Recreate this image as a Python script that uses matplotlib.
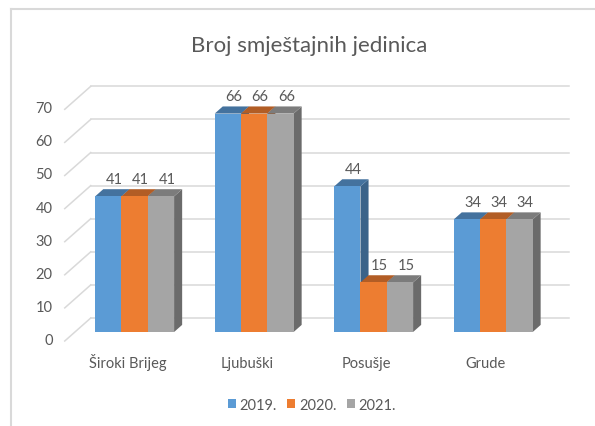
import matplotlib
matplotlib.use("Agg")
import matplotlib.pyplot as plt
from matplotlib.patches import Polygon, Patch
from matplotlib.lines import Line2D

categories = ["Široki Brijeg", "Ljubuški", "Posušje", "Grude"]
series_names = ["2019.", "2020.", "2021."]
values_2019 = [41, 66, 44, 34]
values_2020 = [41, 66, 15, 34]
values_2021 = [41, 66, 15, 34]
series_values = [values_2019, values_2020, values_2021]
yticks = [0, 10, 20, 30, 40, 50, 60, 70]
title = "Broj smještajnih jedinica"

front_colors = ["#5B9BD5", "#ED7D31", "#A5A5A5"]
top_colors = ["#44729E", "#B25D25", "#7C7C7C"]
side_colors = ["#3B6389", "#9A5020", "#6B6B6B"]
text_color = "#595959"
grid_color = "#D9D9D9"
FONT = "Lato"

W, H = 595, 427
fig = plt.figure(figsize=(W / 100, H / 100), dpi=100)
left_px, right_px = 64.75, 542.75
bottom_px, top_px = 342, 110.3
ax = fig.add_axes([left_px / W, 1 - bottom_px / H, (right_px - left_px) / W, (bottom_px - top_px) / H])
ax.set_xlim(-0.5, len(categories) - 0.5)
ax.set_ylim(0, 70)
ax.axis("off")

cat_px = (right_px - left_px) / len(categories)
val_px = (bottom_px - top_px) / 70
DX = 26 / cat_px
DY = 23 / val_px
F0, F1 = 0.39, 0.70
BW = 26.3 / cat_px

x0, x1 = -0.5, len(categories) - 0.5
for v in yticks:
    ax.plot([x0, x0 + DX], [v, v + DY], color=grid_color, lw=1.1, clip_on=False, zorder=1)
    ax.plot([x0 + DX, x1 + DX], [v + DY, v + DY], color=grid_color, lw=1.1, clip_on=False, zorder=1)
    ax.text(x0 - 12 / cat_px, v - 3 / val_px, str(v), ha="right", va="baseline", fontsize=10.5,
            color=text_color, family=FONT)

z = 2
for i, cat in enumerate(categories):
    for s in range(len(series_names)):
        v = series_values[s][i]
        xl = i + (s - 1.5) * BW
        xr = xl + BW
        fx, fy = F0 * DX, F0 * DY
        bx, by = F1 * DX, F1 * DY
        side = Polygon([(xr + fx, fy), (xr + bx, by), (xr + bx, v + by), (xr + fx, v + fy)],
                       closed=True, facecolor=side_colors[s], edgecolor="none", clip_on=False, zorder=z)
        top = Polygon([(xl + fx, v + fy), (xr + fx, v + fy), (xr + bx, v + by), (xl + bx, v + by)],
                      closed=True, facecolor=top_colors[s], edgecolor="none", clip_on=False, zorder=z + 0.1)
        front = Polygon([(xl + fx, fy), (xr + fx, fy), (xr + fx, v + fy), (xl + fx, v + fy)],
                        closed=True, facecolor=front_colors[s], edgecolor="none", clip_on=False, zorder=z + 0.2)
        ax.add_patch(side)
        ax.add_patch(top)
        ax.add_patch(front)
        z += 1
        ax.text((xl + xr) / 2 + 0.62 * DX, v + by + 6 / val_px, str(v), ha="center", va="baseline",
                fontsize=10.5, color=text_color, family=FONT, zorder=50)
    ax.text(i + 3 / cat_px, -26 / val_px, cat, ha="center", va="baseline", fontsize=10.5,
            color=text_color, family=FONT)

fig.text(309.5 / W, 1 - 52 / H, title, ha="center", va="baseline", fontsize=16,
         color=text_color, family=FONT)

handles = [Patch(facecolor=c, edgecolor="none") for c in front_colors]
leg = fig.legend(handles, series_names, loc="center", bbox_to_anchor=(312 / W, 1 - 406 / H),
                 ncol=3, frameon=False, handlelength=0.55, handleheight=0.55, handletextpad=0.25,
                 columnspacing=0.7, borderpad=0, prop={"family": FONT, "size": 10.5})
for t in leg.get_texts():
    t.set_color(text_color)

fig.add_artist(Line2D([11 / W, 1], [1 - 10 / H, 1 - 10 / H], color=grid_color, lw=1.5,
                      transform=fig.transFigure))
fig.add_artist(Line2D([11 / W, 11 / W], [1 - 10 / H, 0], color=grid_color, lw=1.5,
                      transform=fig.transFigure))

fig.savefig("out.png", dpi=100, facecolor="white")
